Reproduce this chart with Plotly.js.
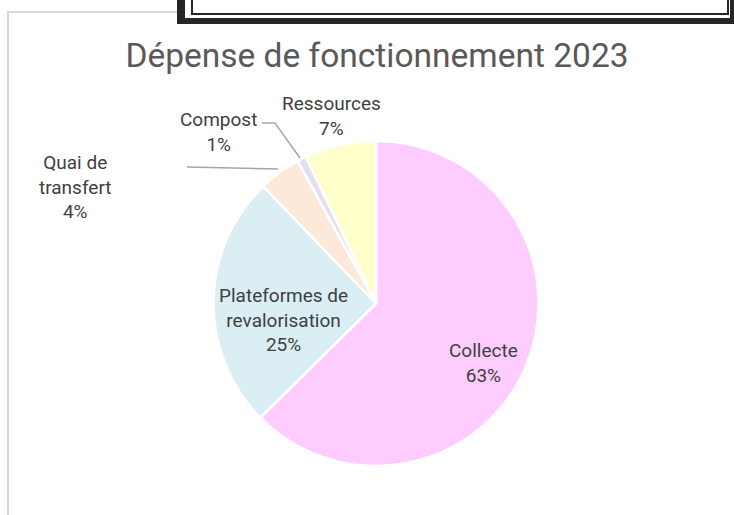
<!DOCTYPE html>
<html>
<head>
<meta charset="utf-8">
<script src="https://cdn.plot.ly/plotly-3.0.1.min.js"></script>
<style>
  html, body { margin: 0; padding: 0; background: #ffffff; }
  #wrap { position: relative; width: 734px; height: 515px; overflow: hidden; }
  #chart { position: absolute; left: 0; top: 0; width: 734px; height: 515px; }
  #frame { position: absolute; left: 7px; top: 11px; width: 760px; height: 600px;
           border-left: 2px solid #D9D9D9; border-top: 2px solid #D9D9D9; pointer-events: none; }
  #boxOuter { position: absolute; left: 177px; top: -10px; width: 580px; height: 34px; background: #262626; }
  #boxGap { position: absolute; left: 185px; top: -10px; width: 545px; height: 28px; background: #ffffff; }
  #boxInner { position: absolute; left: 191px; top: -10px; width: 534px; height: 21px; background: #ffffff;
              border: 2px solid #262626; }
</style>
</head>
<body>
<div id="wrap">
  <div id="chart"></div>
  <div id="frame"></div>
  <div id="boxOuter"></div>
  <div id="boxGap"></div>
  <div id="boxInner"></div>
</div>
<script>
// ---- data ----
var categories = ['Collecte', 'Plateformes de revalorisation', 'Quai de transfert', 'Compost', 'Ressources'];
var displayNames = ['Collecte', 'Plateformes de<br>revalorisation', 'Quai de<br>transfert', 'Compost', 'Ressources'];
var values = [62.6, 25.2, 4.2, 0.9, 7.1];
var sliceColors = ['#FFCCFF', '#DAEEF3', '#FDE9D9', '#E4DFEC', '#FFFFCC'];

// ---- label placement (pixels, centre of text block) ----
var W = 734, H = 515;
var labelPos = [[483, 363], [283, 320], [75, 187], [218, 132], [331, 116]];

var total = values.reduce(function (a, b) { return a + b; }, 0);
var annotations = categories.map(function (c, i) {
  return {
    xref: 'paper', yref: 'paper',
    x: labelPos[i][0] / W, y: 1 - labelPos[i][1] / H,
    xanchor: 'center', yanchor: 'middle',
    text: displayNames[i] + '<br>' + Math.round(values[i] / total * 100) + '%',
    showarrow: false, align: 'center',
    font: { family: 'Roboto, sans-serif', size: 19, color: '#404040' }
  };
});

function P(x, y) { return [x / W, 1 - y / H]; }
function line(pts) {
  var d = pts.map(function (p, k) { var q = P(p[0], p[1]); return (k ? 'L' : 'M') + q[0] + ',' + q[1]; }).join(' ');
  return { type: 'path', xref: 'paper', yref: 'paper', path: d, line: { color: '#A6A6A6', width: 1.5 } };
}
var shapes = [
  line([[262, 123], [275, 123], [300, 158]]),
  line([[187, 167], [278, 169]])
];

var cx = 376, cy = 303.5, r = 162.5;
var trace = {
  type: 'pie',
  labels: categories,
  values: values,
  sort: false,
  direction: 'clockwise',
  rotation: 0,
  textinfo: 'none',
  hoverinfo: 'label+percent',
  marker: { colors: sliceColors, line: { color: '#ffffff', width: 2.5 } },
  domain: { x: [(cx - r) / W, (cx + r) / W], y: [1 - (cy + r) / H, 1 - (cy - r) / H] },
  showlegend: false
};

var layout = {
  width: W, height: H,
  margin: { l: 0, r: 0, t: 0, b: 0 },
  paper_bgcolor: '#ffffff',
  title: {
    text: 'Dépense de fonctionnement 2023',
    x: 377 / W, xanchor: 'center', xref: 'paper',
    y: 1 - 55 / H, yanchor: 'middle', yref: 'container',
    font: { family: 'Roboto, sans-serif', size: 33.5, color: '#595959' }
  },
  annotations: annotations,
  shapes: shapes
};

Plotly.newPlot('chart', [trace], layout, { displayModeBar: false, staticPlot: true });
</script>
</body>
</html>
